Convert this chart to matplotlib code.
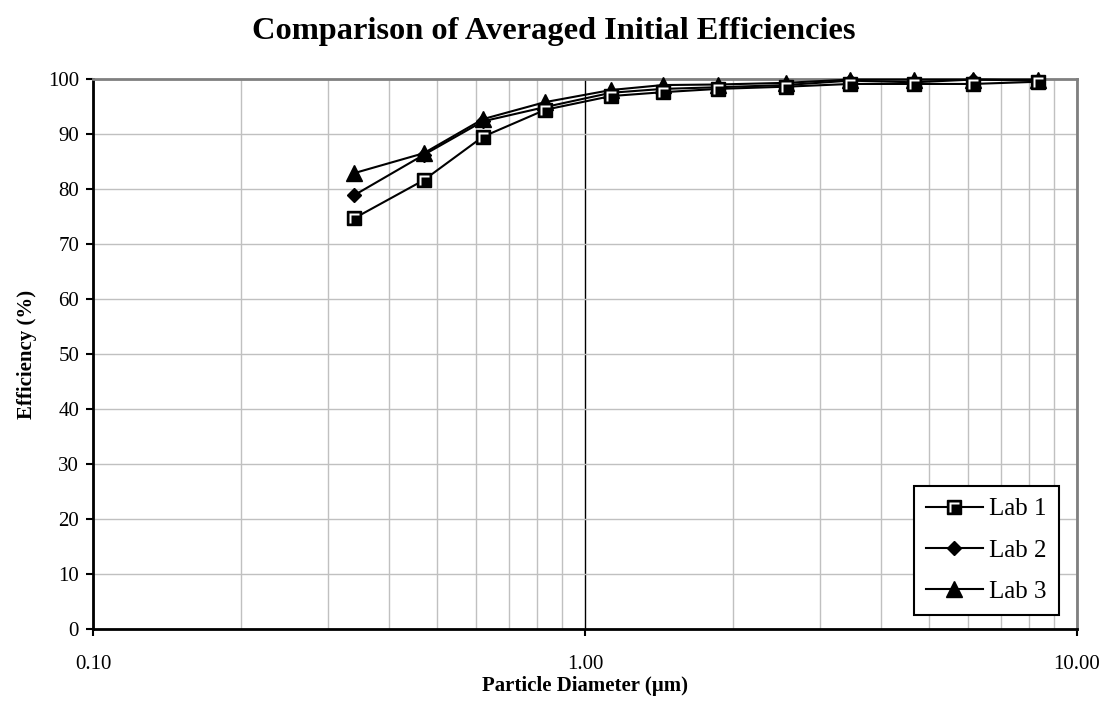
import numpy as np
import matplotlib
matplotlib.use('Agg')
import matplotlib.pyplot as plt
from matplotlib.ticker import LogLocator, FixedLocator, FormatStrFormatter, NullFormatter
from matplotlib.path import Path
from matplotlib.legend_handler import HandlerTuple

sizes = [0.34, 0.47, 0.62, 0.83, 1.13, 1.44, 1.86, 2.56, 3.46, 4.66, 6.15, 8.33]
lab1 = [74.7, 81.6, 89.5, 94.4, 96.9, 97.6, 98.2, 98.6, 99.1, 99.1, 99.1, 99.5]
lab2 = [78.9, 86.2, 92.3, 94.9, 97.5, 98.2, 98.5, 98.9, 99.7, 99.4, 99.9, 99.7]
lab3 = [82.9, 86.5, 92.7, 95.8, 98.0, 98.9, 99.0, 99.3, 99.9, 99.9, 99.9, 99.9]
labels = ['Lab 1', 'Lab 2', 'Lab 3']
x_ticks = [0.1, 1.0, 10.0]
y_ticks = list(range(0, 101, 10))

plt.rcParams['font.family'] = ['Liberation Serif', 'DejaVu Serif']

W, H = 1107, 705
fig = plt.figure(figsize=(W / 100, H / 100), dpi=100)
ax = fig.add_axes([93 / W, 1 - 629 / H, (1077 - 93) / W, (629 - 79) / H])

# white "L" inside the square marker, like the old excel marker
l_path = Path([(-0.7, -0.7), (-0.7, 0.7), (0.7, 0.7), (0.7, 0.45),
               (-0.45, 0.45), (-0.45, -0.7), (-0.7, -0.7)],
              [Path.MOVETO] + [Path.LINETO] * 5 + [Path.CLOSEPOLY])

sq = 9.5
l1, = ax.plot(sizes, lab1, color='black', lw=1.5, marker='s', ms=sq,
              mfc='black', mec='black', clip_on=False, zorder=3)
l1w, = ax.plot(sizes, lab1, ls='none', marker=l_path, ms=sq * 0.7,
               mfc='white', mec='none', clip_on=False, zorder=3.1)
l2, = ax.plot(sizes, lab2, color='black', lw=1.5, marker='D', ms=7,
              mfc='black', mec='black', clip_on=False, zorder=3)
l3, = ax.plot(sizes, lab3, color='black', lw=1.5, marker='^', ms=11,
              mfc='black', mec='black', clip_on=False, zorder=3)

ax.set_xscale('log')
ax.set_xlim(0.1, 10)
ax.set_ylim(0, 100)
ax.xaxis.set_major_locator(FixedLocator(x_ticks))
ax.xaxis.set_major_formatter(FormatStrFormatter('%.2f'))
ax.xaxis.set_minor_locator(LogLocator(base=10, subs=range(2, 10)))
ax.xaxis.set_minor_formatter(NullFormatter())
ax.set_yticks(y_ticks)

ax.grid(True, which='major', axis='y', color='#c0c0c0', lw=1)
ax.grid(True, which='minor', axis='x', color='#c0c0c0', lw=1)
ax.grid(True, which='major', axis='x', color='black', lw=1)
ax.set_axisbelow(True)

ax.tick_params(which='major', direction='out', length=5, width=1.5,
               labelsize=15, colors='black')
ax.tick_params(axis='x', which='major', pad=14)
ax.tick_params(axis='y', which='major', pad=5)
ax.tick_params(which='minor', length=0)

for s in ['left', 'bottom']:
    ax.spines[s].set_color('black')
    ax.spines[s].set_linewidth(2)
for s in ['top', 'right']:
    ax.spines[s].set_color('#808080')
    ax.spines[s].set_linewidth(2)

ax.set_xlabel('Particle Diameter (µm)', fontsize=15, fontweight='bold', labelpad=1)
ax.set_ylabel('Efficiency (%)', fontsize=15, fontweight='bold', labelpad=8)
fig.text(0.5, 1 - 32 / H, 'Comparison of Averaged Initial Efficiencies',
         ha='center', va='center', fontsize=23.3, fontweight='bold')

leg = ax.legend([(l1, l1w), l2, l3], labels,
                handler_map={tuple: HandlerTuple(ndivide=1)},
                loc='lower right', bbox_to_anchor=(0.9817, 0.0255),
                borderaxespad=0, fontsize=18, fancybox=False,
                edgecolor='black', framealpha=1, handlelength=2.3,
                handletextpad=0.25, labelspacing=0.75, borderpad=0.48)
leg.get_frame().set_linewidth(1.5)

fig.savefig('out.png', dpi=100)
